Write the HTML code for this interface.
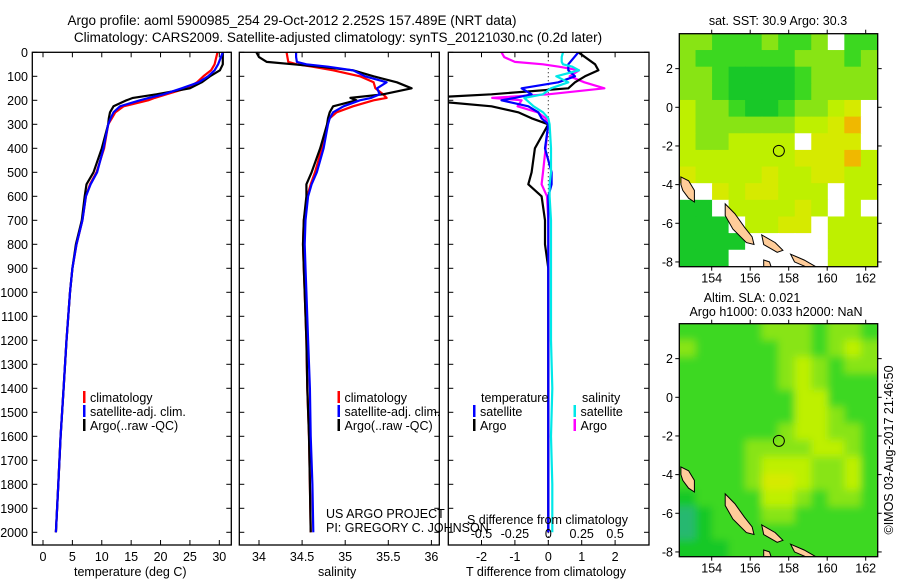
<!DOCTYPE html>
<html><head><meta charset="utf-8"><style>
body{margin:0;background:#fff;}
svg text{font-family:"Liberation Sans",sans-serif;fill:#000;}
</style></head><body>
<svg id="fig" xmlns="http://www.w3.org/2000/svg" width="900" height="580" viewBox="0 0 900 580">
<rect width="900" height="580" fill="#fff"/>
<text x="292" y="25" font-size="13.5" text-anchor="middle">Argo profile: aoml 5900985_254 29-Oct-2012 2.252S 157.489E (NRT data)</text>
<text x="338" y="42" font-size="13.5" text-anchor="middle">Climatology: CARS2009. Satellite-adjusted climatology: synTS_20121030.nc (0.2d later)</text>
<g id="g"></g>
</svg>
<script>
// ---------- data ----------
const depthT = [0,50,75,100,125,150,175,190,200,225,250,275,300,400,500,550,600,700,800,900,1000,1200,1400,1600,1800,2000];
const tempClim = [29.7,29.2,28.6,27.3,26.2,24.4,21.0,19.0,17.9,13.7,12.3,11.7,11.1,10.4,9.1,8.0,7.3,6.7,5.7,5.0,4.6,4.0,3.5,3.0,2.6,2.2];
const tempSat  = [30.6,29.8,29.2,28.1,26.5,23.6,20.5,18.0,16.5,13.1,12.0,11.5,11.1,10.3,9.2,8.1,7.3,6.7,5.7,5.0,4.6,4.0,3.5,3.0,2.6,2.2];
const tempArgo = [30.6,30.6,30.1,28.4,27.0,25.0,19.3,15.3,14.2,12.0,11.4,11.2,11.1,10.0,8.6,7.4,7.1,6.6,5.6,5.0,4.6,4.0,3.5,3.0,2.6,2.2];
const depthS = [0,20,40,50,60,75,100,125,150,175,190,200,225,250,275,300,400,500,550,600,700,800,900,1000,1200,1400,1600,1800,2000];
const salClim = [34.32,34.33,34.34,34.44,34.62,34.86,35.17,35.33,35.35,35.44,35.48,35.33,35.09,34.90,34.82,34.79,34.73,34.65,34.60,34.56,34.52,34.51,34.52,34.53,34.55,34.56,34.58,34.59,34.60];
const salSat  = [34.43,34.43,34.44,34.55,34.80,35.09,35.23,35.48,35.37,35.40,35.30,35.17,34.98,34.86,34.82,34.80,34.75,34.67,34.61,34.57,34.54,34.53,34.54,34.55,34.57,34.59,34.60,34.62,34.63];
const salArgo = [33.97,34.00,34.09,34.40,34.70,35.09,35.33,35.60,35.77,35.44,35.06,35.13,34.86,34.82,34.80,34.79,34.71,34.61,34.55,34.55,34.52,34.51,34.52,34.53,34.55,34.56,34.58,34.59,34.60];
const depthTicks = [0,100,200,300,400,500,600,700,800,900,1000,1100,1200,1300,1400,1500,1600,1700,1800,1900,2000];
const tempTicks = [0,5,10,15,20,25,30];
const salTicks = [34,34.5,35,35.5,36];
const tDiffTicks = [-2,-1,0,1,2];
const sDiffTicks = [-0.5,-0.25,0,0.25,0.5];
const latTicks = [2,0,-2,-4,-6,-8];
const lonTicks = [154,156,158,160,162];
const argoPos = [157.489,-2.252];
// SST map grid (palette index), rows north->south
const sstGrid = [
[3,3,2,2,2,3,2,2,3,0,2,2],[3,2,2,2,2,2,2,3,3,3,2,3],[3,3,2,1,1,1,1,2,3,3,3,3],[3,3,2,1,1,1,1,2,3,3,3,3],
[4,3,3,2,1,1,2,3,3,4,5,0],[4,3,3,3,3,3,3,4,4,5,6,0],[4,3,3,4,4,4,4,0,5,5,5,0],[4,4,4,4,4,4,4,5,5,5,6,4],
[5,4,4,4,4,5,4,4,5,5,4,4],[0,0,5,4,5,5,4,4,4,0,4,4],[1,1,0,4,4,4,4,5,4,0,4,0],[1,1,1,0,4,4,5,5,0,4,4,4],
[1,1,1,1,0,0,0,0,0,4,4,4],[1,1,1,0,0,0,0,0,0,4,4,4]];
const slaGrid = [
[2,2,2,2,2,3,3,3,2,3,3,2],[3,2,2,2,2,2,3,3,2,3,4,3],[2,2,2,2,2,2,3,4,3,2,3,3],[2,2,2,2,2,2,3,4,3,2,2,2],
[2,2,2,2,2,2,2,4,4,2,2,2],[2,2,2,2,2,2,2,4,4,3,2,2],[2,2,2,2,2,2,3,4,4,3,3,2],[2,2,2,2,3,3,3,3,4,4,3,2],
[2,2,2,2,3,4,4,4,3,3,4,2],[2,2,2,2,3,5,5,4,3,3,4,2],[1,2,2,2,2,4,4,3,2,3,3,2],[7,1,2,2,2,3,3,2,2,2,2,2],
[7,1,2,2,2,2,2,2,2,2,2,2],[1,1,1,2,2,2,2,2,2,2,2,2]];
const palette = {0:'#ffffff',1:'#18c828',2:'#3cd820',3:'#88e414',4:'#bef000',5:'#d6ea00',6:'#f0b800',7:'#28b870'};
const land = [
[[152.4,-3.6],[152.8,-3.8],[153.1,-4.3],[153.1,-4.9],[152.8,-4.7],[152.5,-4.3],[152.4,-4.0]],
[[154.7,-5.0],[155.2,-5.5],[155.7,-6.2],[156.1,-6.7],[156.2,-7.1],[155.8,-7.0],[155.1,-6.3],[154.7,-5.6]],
[[156.6,-6.6],[157.3,-7.0],[157.7,-7.4],[157.4,-7.5],[156.7,-7.1]],
[[158.1,-7.6],[158.8,-7.9],[159.5,-8.3],[159.0,-8.3],[158.3,-8.0]],
[[156.7,-7.9],[157.0,-8.0],[157.1,-8.3],[156.7,-8.3]]];

// ---------- helpers ----------
const NS='http://www.w3.org/2000/svg';
const G=document.getElementById('g');
function mk(tag,attrs,parent){const e=document.createElementNS(NS,tag);for(const k in attrs)e.setAttribute(k,attrs[k]);(parent||G).appendChild(e);return e;}
function txt(s,x,y,attrs){const e=mk('text',Object.assign({x:x,y:y,'font-size':12.5},attrs||{}));e.textContent=s;return e;}
const yD=d=>52.3+d*0.24;
const xT=t=>43+t*5.877;
const xS=s=>259+(s-34)*86.2;
const xTd=t=>548.3+t*33.4;
const xSd=s=>548.3+s*133.6;
const PTOP=52.3, PB=545;
function line(xs,ys,color,w,name){const p=xs.map((x,i)=>x.toFixed(1)+','+ys[i].toFixed(1)).join(' ');const e=mk('polyline',{points:p,fill:'none',stroke:color,'stroke-width':w,'stroke-linejoin':'round'});


return e;}
function frame(x0,x1,y0,y1,name){const e=mk('rect',{x:x0,y:y0,width:x1-x0,height:y1-y0,fill:'none',stroke:'#000','stroke-width':1.3});

}
function tick(x1,y1,x2,y2){mk('line',{x1:x1,y1:y1,x2:x2,y2:y2,stroke:'#000','stroke-width':1});}

// ---------- panels ----------
const panels=[[32.3,231.3],[239.3,439.3],[448.3,649]];
panels.forEach((p,i)=>{
  depthTicks.forEach(d=>{tick(p[0],yD(d),p[0]+5,yD(d));tick(p[1],yD(d),p[1]-5,yD(d));});
});
depthTicks.forEach(d=>{const t=txt(String(d),28,yD(d)+4.5,{'text-anchor':'end'});

});
// panel 1
tempTicks.forEach(t=>{tick(xT(t),PB,xT(t),PB-5);tick(xT(t),PTOP,xT(t),PTOP+5);const l=txt(String(t),xT(t),561,{'text-anchor':'middle'});

});
line(tempClim.map(xT),depthT.map(yD),'#ff0000',2.2,'temp-climatology-line');
line(tempArgo.map(xT),depthT.map(yD),'#000000',2.2,'temp-argo-line');
line(tempSat.map(xT),depthT.map(yD),'#0000ff',2.2,'temp-satellite-line');
frame(32.3,231.3,PTOP,PB,'temperature-panel');
// panel 2
salTicks.forEach(s=>{tick(xS(s),PB,xS(s),PB-5);tick(xS(s),PTOP,xS(s),PTOP+5);const l=txt(String(s),xS(s),561,{'text-anchor':'middle'});

});
line(salClim.map(xS),depthS.map(yD),'#ff0000',2.2,'sal-climatology-line');
line(salArgo.map(xS),depthS.map(yD),'#000000',2.2,'sal-argo-line');
line(salSat.map(xS),depthS.map(yD),'#0000ff',2.2,'sal-satellite-line');
frame(239.3,439.3,PTOP,PB,'salinity-panel');
// panel 3
const clip=mk('clipPath',{id:'c3'});mk('rect',{x:448.3,y:PTOP,width:200.7,height:PB-PTOP},clip);
const g3=mk('g',{'clip-path':'url(#c3)'});
mk('line',{x1:548.3,y1:PTOP,x2:548.3,y2:PB,stroke:'#000','stroke-width':1,'stroke-dasharray':'1,3'},g3);
tDiffTicks.forEach(t=>{tick(xTd(t),PB,xTd(t),PB-5);tick(xTd(t),PTOP,xTd(t),PTOP+5);const l=txt(String(t),xTd(t),561,{'text-anchor':'middle'});

});
sDiffTicks.forEach(s=>{const l=txt(String(s),xSd(s),538,{'text-anchor':'middle'});

});
const sdS=salSat.map((v,i)=>v-salClim[i]), sdA=salArgo.map((v,i)=>v-salClim[i]);
const tdS=tempSat.map((v,i)=>v-tempClim[i]), tdA=tempArgo.map((v,i)=>v-tempClim[i]);
[[sdA,xSd,depthS,'#ff00ff','sdiff-argo-line'],[tdA,xTd,depthT,'#000000','tdiff-argo-line'],[tdS,xTd,depthT,'#0000ff','tdiff-satellite-line'],[sdS,xSd,depthS,'#00e8e8','sdiff-satellite-line']].forEach(a=>{
  const e=line(a[0].map(a[1]),a[2].map(yD),a[3],2.2,a[4]);g3.appendChild(e);
});
frame(448.3,649,PTOP,PB,'difference-panel');

// legends
function legend(x,y,color,label,name){mk('rect',{x:x,y:y-6,width:2.5,height:12,fill:color});const t=txt(label,x+7,y+5);

}
[[83,'#ff0000','climatology'],[337.5,'#ff0000','climatology']].forEach(l=>legend(l[0],397,l[1],l[2],'legend-climatology'));
[83,337.5].forEach(x=>{legend(x,411,'#0000ff','satellite-adj. clim.','legend-satellite');legend(x,425,'#000','Argo(..raw -QC)','legend-argo');});
txt('temperature',481,402);
txt('salinity',582,402);
legend(473,411,'#0000ff','satellite','legend-t-satellite');
legend(473,425,'#000','Argo','legend-t-argo');
legend(573.5,411,'#00e8e8','satellite','legend-s-satellite');
legend(573.5,425,'#ff00ff','Argo','legend-s-argo');
txt('US ARGO PROJECT',326,518);
txt('PI: GREGORY C. JOHNSON',326,532);
txt('S difference from climatology',467,524);
txt('temperature (deg C)',74,576);
txt('salinity',318,576);
txt('T difference from climatology',466,576);

// ---------- maps ----------
function drawMap(y0,grid,name,blur){
  const X0=679.3,X1=877.7,Y0=y0+33.7,Y1=y0+266.7;
  const lonX=l=>711.7+(l-154)*19.25, latY=l=>y0+107.3-l*19.33;
  const cp=mk('clipPath',{id:'cm'+y0});mk('rect',{x:X0,y:Y0,width:X1-X0,height:Y1-Y0},cp);
  const g=mk('g',{'clip-path':'url(#cm'+y0+')'});
  
  
  if(blur) mk('rect',{x:X0,y:Y0,width:X1-X0,height:Y1-Y0,fill:palette[2]},g);
  const gg=mk('g',blur?{filter:'url(#bl)'}:{},g);
  const cw=(X1-X0)/grid[0].length, ch=(Y1-Y0)/grid.length;
  const pad=blur?12:0;
  grid.forEach((row,r)=>row.forEach((v,c)=>{
    let x=X0+c*cw-0.3,y=Y0+r*ch-0.3,w=cw+0.6,h=ch+0.6;
    if(c===0){x-=pad;w+=pad;} if(c===row.length-1){w+=pad;}
    if(r===0){y-=pad;h+=pad;} if(r===grid.length-1){h+=pad;}
    mk('rect',{x:x,y:y,width:w,height:h,fill:palette[v]},gg);}));
  land.forEach(poly=>{mk('polygon',{points:poly.map(p=>lonX(p[0]).toFixed(1)+','+latY(p[1]).toFixed(1)).join(' '),fill:'#ffcc99',stroke:'#000','stroke-width':1},g);});
  const c=mk('circle',{cx:lonX(argoPos[0]),cy:latY(argoPos[1]),r:5.5,fill:'none',stroke:'#000','stroke-width':1},g);
  
  
  frame(X0,X1,Y0,Y1,name+'-frame');
  latTicks.forEach(l=>{tick(X0-4,latY(l),X0,latY(l));tick(X1,latY(l),X1+4,latY(l));const t=txt(String(l),673,latY(l)+4.5,{'text-anchor':'end'});
  
  });
  lonTicks.forEach(l=>{tick(lonX(l),Y0-4,lonX(l),Y0);tick(lonX(l),Y1,lonX(l),Y1+4);const t=txt(String(l),lonX(l),Y1+16,{'text-anchor':'middle'});
  
  });
}
const defs=mk('defs',{});const f=mk('filter',{id:'bl'},defs);mk('feGaussianBlur',{stdDeviation:4},f);
drawMap(0,sstGrid,'sst-map',false);
drawMap(290,slaGrid,'sla-map',true);
txt('sat. SST: 30.9 Argo: 30.3',778,25,{'text-anchor':'middle'});
txt('Altim. SLA: 0.021',752,302,{'text-anchor':'middle'});
txt('Argo h1000: 0.033 h2000: NaN',776,316,{'text-anchor':'middle'});
const cr=txt('©IMOS 03-Aug-2017 21:46:50',0,0,{'text-anchor':'middle',transform:'translate(893,450) rotate(-90)'});


</script>
</body></html>
